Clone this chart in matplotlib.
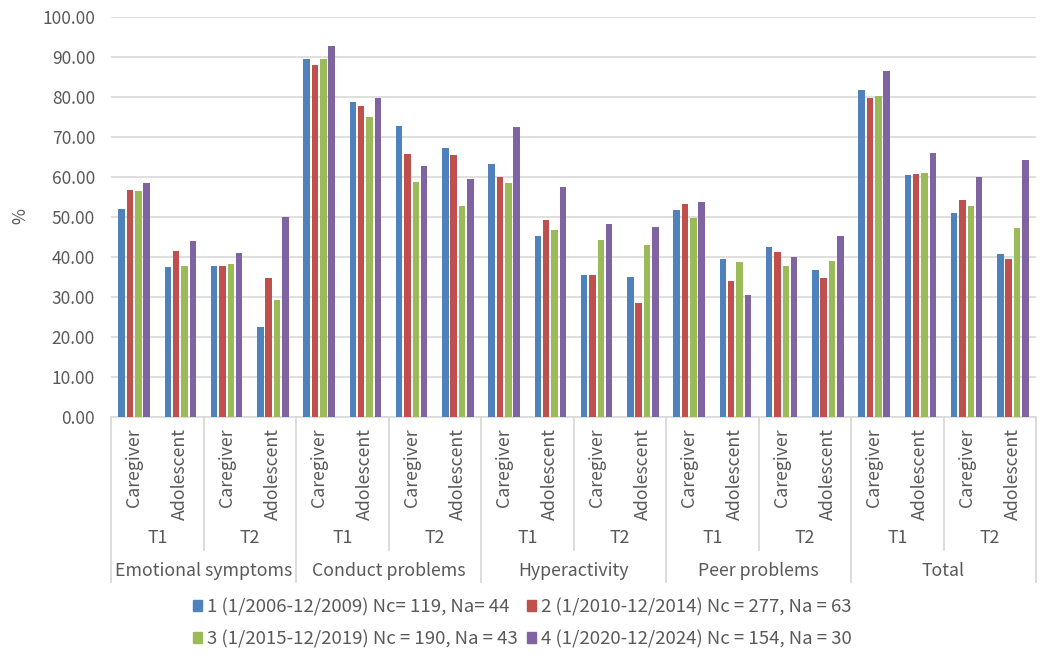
import numpy as np
import matplotlib
matplotlib.use('Agg')
from matplotlib import pyplot as plt
from matplotlib.patches import Patch
import matplotlib.transforms as mtransforms

plt.rcParams['font.family'] = ['Noto Sans CJK SC', 'DejaVu Sans']

groups = ['Emotional symptoms', 'Conduct problems', 'Hyperactivity', 'Peer problems', 'Total']
times = ['T1', 'T2']
informants = ['Caregiver', 'Adolescent']

series_labels = [
    '1 (1/2006-12/2009) Nc= 119, Na= 44',
    '2 (1/2010-12/2014) Nc = 277, Na = 63',
    '3 (1/2015-12/2019) Nc = 190, Na = 43',
    '4 (1/2020-12/2024) Nc = 154, Na = 30',
]
series_colors = ['#4F81BD', '#C0504D', '#9BBB59', '#8064A2']

# order: group -> T1/T2 -> Caregiver/Adolescent
period1 = [51.9, 37.4, 37.7, 22.4, 89.4, 78.7, 72.7, 67.2, 63.2, 45.2,
           35.4, 34.9, 51.7, 39.4, 42.4, 36.7, 81.7, 60.4, 50.9, 40.7]
period2 = [56.7, 41.4, 37.7, 34.7, 87.9, 77.7, 65.7, 65.4, 59.9, 49.2,
           35.4, 28.4, 53.2, 33.9, 41.2, 34.7, 79.7, 60.7, 54.2, 39.4]
period3 = [56.4, 37.7, 38.2, 29.2, 89.4, 74.9, 58.7, 52.7, 58.4, 46.7,
           44.2, 42.9, 49.7, 38.7, 37.7, 38.9, 80.2, 60.9, 52.7, 47.2]
period4 = [58.4, 43.9, 40.9, 49.9, 92.7, 79.7, 62.7, 59.4, 72.4, 57.4,
           48.2, 47.4, 53.7, 30.4, 39.9, 45.2, 86.4, 65.9, 59.9, 64.2]

series = [period1, period2, period3, period4]

W, H = 1054, 661
fig = plt.figure(figsize=(W / 100, H / 100), dpi=100)
ax = fig.add_axes([111 / W, 1 - 416.7 / H, 925 / W, 400 / H])

grey = '#595959'
line_c = '#d9d9d9'

n = len(period1)
x = np.arange(n)
pitch = 0.18
bw = 0.14
for i, vals in enumerate(series):
    ax.bar(x + (i - 1.5) * pitch, vals, width=bw, color=series_colors[i],
           zorder=3, label=series_labels[i])

ax.set_xlim(-0.5, n - 0.5)
ax.set_ylim(0, 100)
ax.set_yticks(np.arange(0, 101, 10))
ax.set_yticklabels(['%0.2f' % v for v in np.arange(0, 101, 10)])
ax.yaxis.grid(True, color=line_c, lw=1.2, zorder=0)
ax.tick_params(axis='y', length=0, pad=11.5, labelsize=12.5, labelcolor=grey)
ax.set_xticks([])
for s in ['top', 'right', 'left']:
    ax.spines[s].set_visible(False)
ax.spines['bottom'].set_color(line_c)
ax.spines['bottom'].set_linewidth(1.2)

fig.text(20 / W, 1 - 216 / H, '%', rotation=90, ha='center', va='center',
         fontsize=12.5, color=grey)

# multi-level category axis
trans = mtransforms.blended_transform_factory(ax.transData, ax.transAxes)
px = 1 / 400.0
y_inner_top = -(428 - 416.7) * px
y_time = -(538 - 416.7) * px
y_group = -(571 - 416.7) * px
y_time_line = -(550 - 416.7) * px
y_group_line = -(582 - 416.7) * px

k = 0
for g in groups:
    for t in times:
        for inf in informants:
            ax.text(k, y_inner_top, inf, rotation=90, ha='center', va='top',
                    transform=trans, fontsize=12.8, color=grey)
            k += 1

for j in range(len(groups) * len(times)):
    ax.text(j * 2 + 0.5, y_time, times[j % 2], ha='center', va='center',
            transform=trans, fontsize=12.8, color=grey)

for j, g in enumerate(groups):
    ax.text(j * 4 + 1.5, y_group, g, ha='center', va='center',
            transform=trans, fontsize=12.8, color=grey)

for b in range(0, n + 1, 2):
    xb = b - 0.5
    y_end = y_group_line if b % 4 == 0 else y_time_line
    ax.plot([xb, xb], [0, y_end], color=line_c, lw=1.3, transform=trans,
            clip_on=False, zorder=1)

handles = [Patch(color=c) for c in series_colors]
order = [0, 2, 1, 3]
fig.legend([handles[i] for i in order], [series_labels[i] for i in order],
           loc='center', bbox_to_anchor=(522 / W, 1 - 623 / H), ncol=2,
           frameon=False, handlelength=0.5, handleheight=0.5,
           handletextpad=0.25, columnspacing=0.5, labelspacing=0.75,
           fontsize=13.4, labelcolor=grey, borderpad=0)

fig.savefig('out.png', dpi=100)
